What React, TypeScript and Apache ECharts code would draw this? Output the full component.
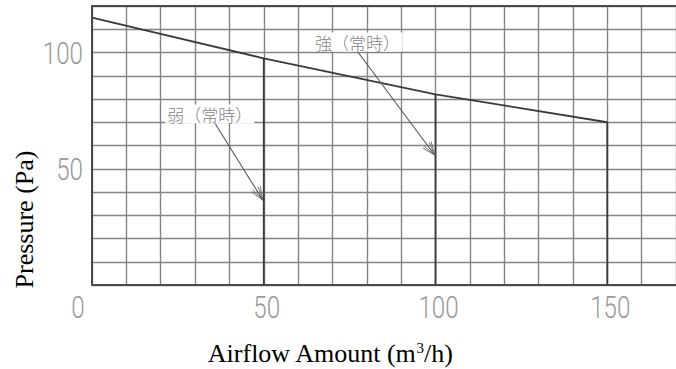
import React, { useEffect, useRef } from "react";
import * as echarts from "echarts";

// Fan curve (shared top line) — airflow (m3/h) vs pressure (Pa)
const airflow = [0, 50, 100, 150];
const pressure = [115, 97.5, 82, 70];
// Modes drop vertically to zero at these airflows
const dropAirflow = [50, 100, 150];
const dropPressure = [97.5, 82, 70];

const xLabelValues = [0, 50, 100, 150];
const yLabelValues = [50, 100];

// Annotations: [x1, y1, x2, y2] arrows, labels at [x, y]
const weakArrow = [35.2, 71, 49.7, 36.5];
const strongArrow = [77.4, 100.2, 99.8, 55.8];
const annotationNames = ["弱（常時）", "強（常時）"];
const annotationAt = [
  [34.3, 73.5],
  [77.3, 104.5],
];

const numFont = "Roboto, 'Liberation Sans', sans-serif";
const numStyle = { fontFamily: numFont, fontSize: 31, fontWeight: 300, fill: "#9a9a9a" };

export default function App() {
  const ref = useRef<HTMLDivElement>(null);
  useEffect(() => {
    if (!ref.current) return;
    const chart = echarts.init(ref.current, undefined, { renderer: "svg" });

    const topCurve = airflow.map((x, i) => [x, pressure[i]]);
    topCurve.push([airflow[airflow.length - 1], 0]);
    const dropSeries = dropAirflow.slice(0, 2).map((x, i) => ({
      type: "line",
      data: [
        [x, dropPressure[i]],
        [x, 0],
      ],
      symbol: "none",
      lineStyle: { color: "#3a3a3a", width: 1.8 },
      z: 3,
      silent: true,
    }));

    const option: any = {
      animation: false,
      grid: { left: 92, top: 6, right: 0, bottom: 84 },
      xAxis: [
        {
          type: "value",
          min: 0,
          max: 170,
          interval: 10,
          axisLine: { show: true, lineStyle: { color: "#4a4a4a", width: 2 } },
          axisTick: { show: false },
          splitLine: { show: true, lineStyle: { color: "#858585", width: 1.4 } },
          axisLabel: { show: false },
        },
        {
          type: "value",
          position: "top",
          min: 0,
          max: 170,
          axisLine: { show: true, onZero: false, lineStyle: { color: "#4a4a4a", width: 2 } },
          axisTick: { show: false },
          axisLabel: { show: false },
          splitLine: { show: false },
        },
      ],
      yAxis: {
        type: "value",
        min: 0,
        max: 120,
        interval: 10,
        axisLine: { show: true, lineStyle: { color: "#4a4a4a", width: 2 } },
        axisTick: { show: false },
        splitLine: { show: true, lineStyle: { color: "#858585", width: 1.4 } },
        axisLabel: { show: false },
      },
      graphic: [
        {
          type: "text",
          x: 330,
          y: 353,
          style: {
            text: "Airflow Amount (m{sup|3}/h)",
            font: "26px 'Liberation Serif', 'Times New Roman', serif",
            fill: "#000",
            align: "center",
            verticalAlign: "middle",
            rich: {
              sup: {
                fontSize: 15,
                fontFamily: "'Liberation Serif', serif",
                verticalAlign: "top",
                fill: "#000",
              },
            },
          },
        },
        {
          type: "text",
          x: 24,
          y: 219.5,
          rotation: Math.PI / 2,
          style: {
            text: "Pressure (Pa)",
            font: "26px 'Liberation Serif', 'Times New Roman', serif",
            fill: "#000",
            align: "center",
            verticalAlign: "middle",
          },
        },
      ],
      series: [
        {
          type: "line",
          data: topCurve,
          symbol: "none",
          lineStyle: { color: "#3a3a3a", width: 1.8 },
          z: 3,
          silent: true,
        },
        ...dropSeries,
        // arrows
        {
          type: "custom",
          z: 4,
          silent: true,
          data: [weakArrow, strongArrow],
          renderItem: (params: any, api: any) => {
            const p1 = api.coord([api.value(0), api.value(1)]);
            const p2 = api.coord([api.value(2), api.value(3)]);
            const ang = Math.atan2(p2[1] - p1[1], p2[0] - p1[0]);
            const L = 14;
            const children: any[] = [
              {
                type: "line",
                shape: { x1: p1[0], y1: p1[1], x2: p2[0], y2: p2[1] },
                style: { stroke: "#555", lineWidth: 1.1 },
              },
            ];
            [-0.38, -0.22, 0.22, 0.38].forEach((a) => {
              children.push({
                type: "line",
                shape: {
                  x1: p2[0],
                  y1: p2[1],
                  x2: p2[0] - L * Math.cos(ang + a),
                  y2: p2[1] - L * Math.sin(ang + a),
                },
                style: { stroke: "#666", lineWidth: 0.9 },
              });
            });
            return { type: "group", children };
          },
        },
        // annotation labels
        {
          type: "custom",
          z: 5,
          silent: true,
          data: annotationAt.map((p, i) => ({ value: p, name: annotationNames[i] })),
          renderItem: (params: any, api: any) => {
            const p = api.coord([api.value(0), api.value(1)]);
            return {
              type: "text",
              x: p[0],
              y: p[1],
              style: {
                text: annotationNames[params.dataIndex],
                fontFamily: "'Noto Sans CJK JP', sans-serif",
                fontSize: 17,
                fontWeight: 300,
                fill: "#858585",
                align: "center",
                verticalAlign: "middle",
                backgroundColor: "#fff",
                padding: [1, 2],
              },
            };
          },
        },
        // x tick labels
        {
          type: "custom",
          z: 5,
          silent: true,
          data: xLabelValues.map((v) => [v, 0]),
          renderItem: (params: any, api: any) => {
            const v = api.value(0);
            const p = api.coord([v, 0]);
            return {
              type: "text",
              x: p[0] + (v === 0 ? -14 : 3),
              y: p[1] + 22,
              scaleX: 0.78,
              style: { ...numStyle, text: String(v), align: "center", verticalAlign: "middle" },
            };
          },
        },
        // y tick labels
        {
          type: "custom",
          z: 5,
          silent: true,
          data: yLabelValues.map((v) => [0, v]),
          renderItem: (params: any, api: any) => {
            const v = api.value(1);
            const p = api.coord([0, v]);
            return {
              type: "text",
              x: p[0] - 9,
              y: p[1] + 1,
              scaleX: 0.78,
              style: { ...numStyle, text: String(v), align: "right", verticalAlign: "middle" },
            };
          },
        },
      ],
    };
    chart.setOption(option);
    return () => chart.dispose();
  }, []);
  return (
    <div
      ref={ref}
      style={{ position: "fixed", left: 0, top: 0, width: 676, height: 369, background: "#fff" }}
    />
  );
}
